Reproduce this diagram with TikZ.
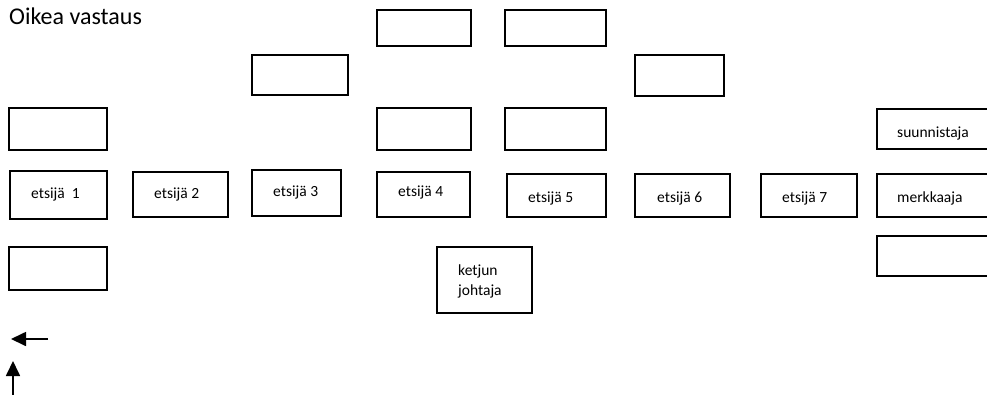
\documentclass[tikz,border=0pt]{standalone}
\usepackage{fontspec}
\setmainfont{Carlito}
\usetikzlibrary{arrows.meta}
\newcommand\mybox[5]{\node[box,minimum width={(#4-#2)*1pt},minimum height={(#5-#3)*1pt}] (#1) at ({(#2+#4)/2},{(#3+#5)/2}) {};}
\tikzset{
  box/.style={draw,line width=1.5pt,inner sep=0pt,rectangle},
  lbl/.style={anchor=base west,inner sep=0pt,font=\fontsize{15.5}{20}\selectfont},
  arr/.style={line width=1.7pt,-{Triangle[length=15pt,width=14pt]}}
}
\begin{document}
\begin{tikzpicture}[x=1pt,y=-1pt]
\useasboundingbox (0,0) rectangle (987,394);
\node[anchor=base west,inner sep=0pt,font=\fontsize{24}{28}\selectfont] (title) at (9,24) {Oikea vastaus};
% row 1
\mybox{r1a}{377}{10}{471}{46}
\mybox{r1b}{505}{10}{606}{46}
% row 2
\mybox{r2a}{252}{55}{348}{95}
\mybox{r2b}{635}{55}{724}{96}
% row 3
\mybox{r3a}{9}{108}{107}{150}
\mybox{r3b}{377}{108}{471}{150}
\mybox{r3c}{505}{108}{606}{150}
\mybox{r3d}{877}{109}{1000}{149}
% row 4
\mybox{e1}{10}{171}{107}{219}
\mybox{e2}{133}{172}{228}{217}
\mybox{e3}{252}{170}{341}{216}
\mybox{e4}{377}{172}{470}{217}
\mybox{e5}{507}{174}{606}{217}
\mybox{e6}{635}{174}{730}{217}
\mybox{e7}{761}{174}{857}{217}
\mybox{mk}{877}{174}{1000}{217}
% row 5
\mybox{r5a}{9}{247}{107}{290}
\mybox{kj}{437}{247}{532}{313}
\mybox{r5c}{877}{236}{1000}{276}
% labels
\node[lbl] (t1) at (31,198) {etsijä\ \ 1};
\node[lbl] (t2) at (154,198) {etsijä 2};
\node[lbl] (t3) at (273,196) {etsijä 3};
\node[lbl] (t4) at (398,196) {etsijä 4};
\node[lbl] (t5) at (528,202) {etsijä 5};
\node[lbl] (t6) at (657,202) {etsijä 6};
\node[lbl] (t7) at (782,202) {etsijä 7};
\node[lbl] (tm) at (897,202) {merkkaaja};
\node[lbl] (ts) at (897,137) {suunnistaja};
\node[lbl] (tk1) at (458,275) {ketjun};
\node[lbl] (tk2) at (458,295) {johtaja};
% arrows
\coordinate (la1) at (48,339);
\coordinate (la2) at (11,339);
\draw[arr] (la1) -- (la2);
\coordinate (ua1) at (13,396);
\coordinate (ua2) at (13,361);
\draw[arr] (ua1) -- (ua2);
\end{tikzpicture}
\end{document}
